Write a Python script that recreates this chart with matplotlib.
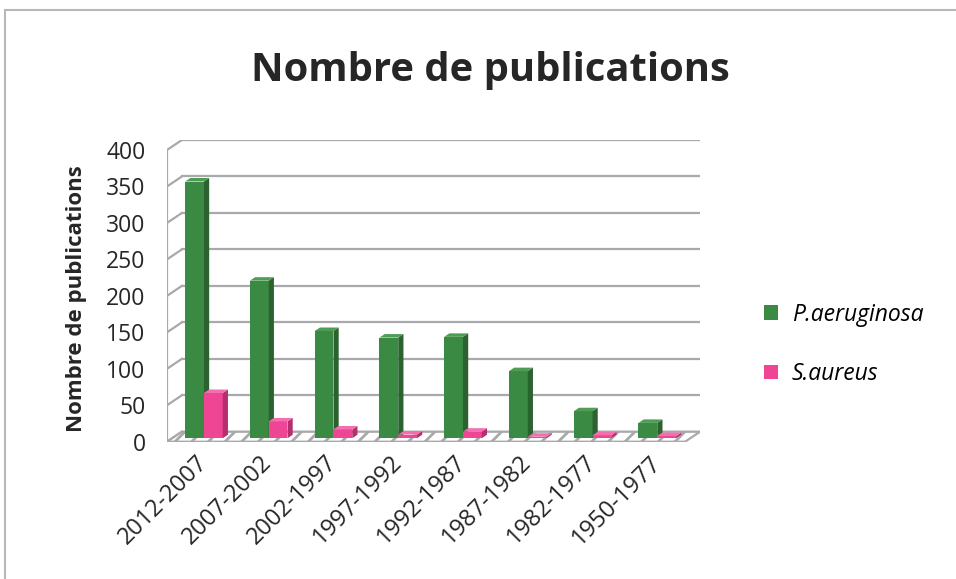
"""Nombre de publications: P.aeruginosa vs S.aureus, Excel-style 3D column chart."""

import matplotlib.pyplot as plt
from matplotlib.patches import Polygon, Patch

plt.rcParams["font.family"] = ["Open Sans", "DejaVu Sans"]
plt.rcParams["hatch.color"] = "#dcdcdc"
plt.rcParams["hatch.linewidth"] = 2.0

# ---- Data ----
periods = ["2012-2007", "2007-2002", "2002-1997", "1997-1992",
           "1992-1987", "1987-1982", "1982-1977", "1950-1977"]
p_aeruginosa = [352, 216, 147, 138, 139, 92, 37, 21]
s_aureus = [62, 23, 12, 5, 9, 2, 4, 3]
yticks = [0, 50, 100, 150, 200, 250, 300, 350, 400]

# ---- Style ----
GREEN = ("#3a8a44", "#2b6230", "#4f9c55")   # front, side, top
PINK = ("#ee4595", "#b52e6d", "#f46fae")
GRID = "#a9a9ad"
TXT = "#262626"
DX, DY = 0.23, 13.7      # depth offset of the back wall (category units, value units)
F0, F1 = 0.35, 0.70      # bar depth span as fraction of floor depth
W = 0.29                 # bar width
X0 = 0.20                # start of first bar inside a category

fig = plt.figure(figsize=(9.56, 5.79), dpi=100)
ax = fig.add_axes([0.1747, 0.2371, 0.5575, 0.5211])
n = len(periods)
ax.set_xlim(0, n + DX)
ax.set_ylim(0, 400 + DY)
ax.axis("off")

# back wall grid + left wall diagonals
for v in yticks:
    ax.plot([DX, n + DX], [v + DY, v + DY], color=GRID, lw=1.6, zorder=1)
    ax.plot([0, DX], [v, v + DY], color=GRID, lw=1.6, zorder=1)
ax.plot([0, 0], [0, 400], color=GRID, lw=1.6, zorder=1)

# floor
floor_pts = [(0, 0), (n, 0), (n + DX, DY), (DX, DY)]
ax.add_patch(Polygon(floor_pts, closed=True, facecolor="white", edgecolor=GRID,
                     hatch="//", lw=0, zorder=2))
ax.add_patch(Polygon(floor_pts, closed=True, fill=False, edgecolor=GRID, lw=1.6, zorder=2))


def bar3d(x, v, cols):
    front, side, top = cols
    xf = x + F0 * DX
    yf = F0 * DY
    xb = x + F1 * DX
    yb = F1 * DY
    ax.bar(xf, v, width=W, bottom=yf, align="edge", color=front, lw=0, zorder=3)
    ax.add_patch(Polygon([(xf + W, yf), (xb + W, yb), (xb + W, yb + v), (xf + W, yf + v)],
                         closed=True, facecolor=side, lw=0, zorder=3))
    ax.add_patch(Polygon([(xf, yf + v), (xf + W, yf + v), (xb + W, yb + v), (xb, yb + v)],
                         closed=True, facecolor=top, lw=0, zorder=3))


for i in range(n):
    bar3d(i + X0, p_aeruginosa[i], GREEN)
    bar3d(i + X0 + W, s_aureus[i], PINK)

# y tick labels
for v in yticks:
    ax.text(-0.33, v - 4, str(v), ha="right", va="center", fontsize=16.5, color=TXT)

# x tick labels
for i, lab in enumerate(periods):
    ax.text(i + 0.57, -24, lab, ha="right", va="center", rotation=45,
            rotation_mode="anchor", fontsize=17, color=TXT)

fig.text(0.080, 0.484, "Nombre de publications", rotation=90, ha="center", va="center",
         fontsize=16, fontweight="bold", color=TXT)
fig.text(0.513, 0.878, "Nombre de publications", ha="center", va="center",
         fontsize=28.8, fontweight="bold", color=TXT)

handles = [Patch(facecolor=GREEN[0], label="P.aeruginosa"),
           Patch(facecolor=PINK[0], label="S.aureus")]
fig.legend(handles=handles, loc="center left", bbox_to_anchor=(0.778, 0.405),
           frameon=False, prop={"size": 16.5, "style": "italic"},
           handlelength=0.6, handleheight=0.6, labelspacing=1.55, handletextpad=0.6)

# outer frame (top and left edges)
fig.add_artist(plt.Line2D([0.005, 1.0], [0.982, 0.982], color="#b8b8b8", lw=1.5))
fig.add_artist(plt.Line2D([0.005, 0.005], [0.0, 0.982], color="#b8b8b8", lw=1.5))

plt.savefig("out.png", dpi=100)
